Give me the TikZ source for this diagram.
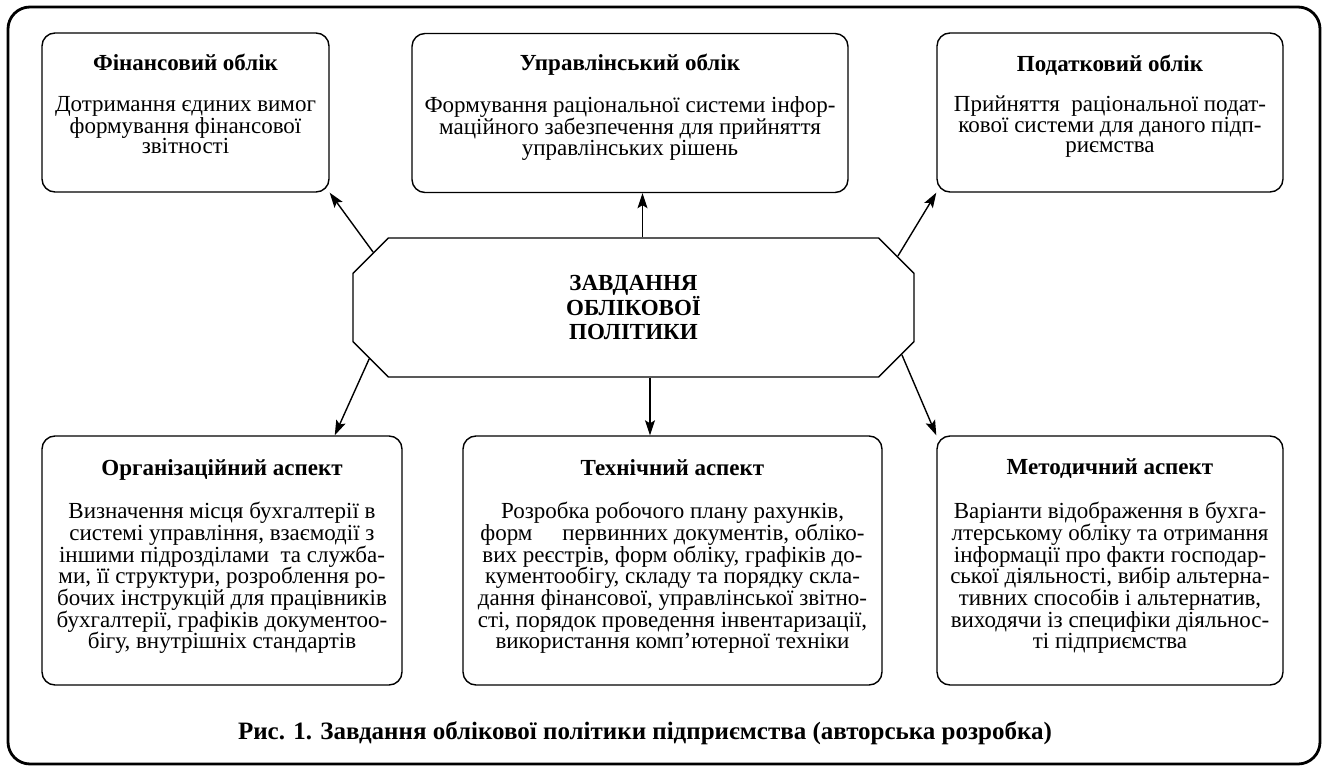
\documentclass[tikz,border=0pt]{standalone}
\usepackage{fontspec}
\setmainfont{Liberation Serif}
\usetikzlibrary{arrows.meta,shapes.misc}

\begin{document}
\begin{tikzpicture}[x=1pt,y=-1pt,>={Stealth[length=15pt,width=10pt,inset=3pt]},
                    line width=1.4pt]
  \tikzstyle{box}=[draw,rounded corners=13pt,align=center,inner sep=0pt]
  \tikzstyle{topbox}=[box,minimum height=159pt,font=\fontsize{23}{20.5}\selectfont,
                      execute at end node={\rule[-17pt]{0pt}{17pt}}]
  \tikzstyle{lowbox}=[box,minimum height=249pt,font=\fontsize{23}{21.7}\selectfont,
                      execute at end node={\rule[-13pt]{0pt}{13pt}}]
  \tikzstyle{task}=[draw,chamfered rectangle,chamfered rectangle xsep=41pt,
                    minimum width=561pt,minimum height=139pt,inner sep=0pt,
                    align=center,font=\bfseries\fontsize{23}{24}\selectfont]

  \useasboundingbox (0,0) rectangle (1327,767);
  \draw[line width=2.8pt,rounded corners=22pt] (8,7) rectangle (1320,764);

  \node[task] (cen) at (633.5,307.5) {ЗАВДАННЯ\\ОБЛІКОВОЇ\\ПОЛІТИКИ};

  % top row
  \node[topbox,minimum width=287pt] (fin) at (185.5,112.5)
    {\textbf{Фінансовий облік}\\[20pt]
     Дотримання єдиних вимог\\формування фінансової\\звітності};
  \node[topbox,minimum width=436pt] (upr) at (630,113)
    {\textbf{Управлінський облік}\\[20pt]
     Формування раціональної системи інфор-\\маційного забезпечення для прийняття\\управлінських рішень};
  \node[topbox,minimum width=346pt] (pod) at (1110,112.5)
    {\textbf{Податковий облік}\\[20pt]
     Прийняття\ \ раціональної подат-\\кової системи для даного підп-\\риємства};

  % bottom row
  \node[lowbox,minimum width=360pt] (org) at (222,560.5)
    {\textbf{Організаційний аспект}\\[22pt]
     Визначення місця бухгалтерії в\\системі управління, взаємодії з\\іншими підрозділами\ \ та служба-\\ми, її структури, розроблення ро-\\бочих інструкцій для працівників\\бухгалтерії, графіків документоо-\\бігу, внутрішніх стандартів};
  \node[lowbox,minimum width=419pt] (tech) at (672.5,560.5)
    {\textbf{Технічний аспект}\\[22pt]
     Розробка робочого плану рахунків,\\форм\hspace{1.3em}первинних документів, обліко-\\вих реєстрів, форм обліку, графіків до-\\кументообігу, складу та порядку скла-\\дання фінансової, управлінської звітно-\\сті, порядок проведення інвентаризації,\\використання комп’ютерної техніки};
  \node[lowbox,minimum width=346pt] (met) at (1110,560.5)
    {\textbf{Методичний аспект}\\[22pt]
     Варіанти відображення в бухга-\\лтерському обліку та отримання\\інформації про факти господар-\\ської діяльності, вибір альтерна-\\тивних способів і альтернатив,\\виходячи із специфіки діяльнос-\\ті підприємства};

  \coordinate (upIn) at ([xshift=9pt]cen.north);
  \coordinate (downIn) at ([xshift=16.5pt]cen.south);

  \path[->] (cen.168.7) edge (fin.south east)
            (upIn)      edge (upIn |- upr.south)
            (cen.11.8)  edge (pod.south west)
            (cen.191.3) edge (org.48.5)
            (downIn)    edge (downIn |- tech.north)
            (cen.350.2) edge (met.north west);

  \node[font=\bfseries\fontsize{25}{26}\selectfont] (caption) at (645,733)
    {Рис. 1. Завдання облікової політики підприємства (авторська розробка)};
\end{tikzpicture}
\end{document}
